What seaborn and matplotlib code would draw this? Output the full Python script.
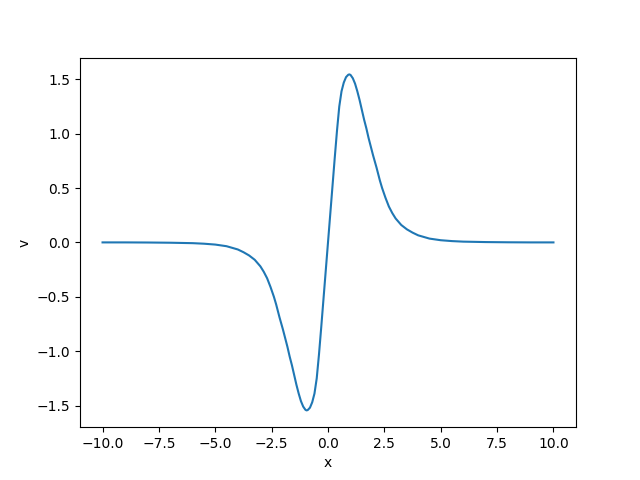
import matplotlib
matplotlib.use('Agg')
import matplotlib.pyplot as plt
import seaborn as sns
import pandas as pd

# values
x_vals = [-10.0, -9.0, -8.0, -7.0, -6.0, -5.5, -5.0, -4.5, -4.0, -3.75, -3.5, -3.25, -3.0,
          -2.85, -2.7, -2.55, -2.4, -2.3, -2.15, -2.0, -1.9, -1.8, -1.7, -1.6, -1.5, -1.4,
          -1.3, -1.2, -1.1, -1.0, -0.95, -0.9, -0.8, -0.7, -0.6, -0.5, -0.4, -0.3, -0.2, -0.1,
          0.0,
          0.1, 0.2, 0.3, 0.4, 0.5, 0.6, 0.7, 0.8, 0.9, 0.95, 1.0, 1.1, 1.2, 1.3, 1.4,
          1.5, 1.6, 1.7, 1.8, 1.9, 2.0, 2.15, 2.3, 2.4, 2.55, 2.7, 2.85, 3.0,
          3.25, 3.5, 3.75, 4.0, 4.5, 5.0, 5.5, 6.0, 7.0, 8.0, 9.0, 10.0]
v_vals = [0.0, 0.0, -0.001, -0.003, -0.007, -0.012, -0.02, -0.035, -0.065, -0.09, -0.12, -0.16, -0.22,
          -0.27, -0.33, -0.41, -0.50, -0.57, -0.69, -0.80, -0.88, -0.96, -1.05, -1.13, -1.22, -1.31,
          -1.39, -1.46, -1.51, -1.54, -1.545, -1.542, -1.52, -1.47, -1.39, -1.25, -1.03, -0.78, -0.52, -0.26,
          0.0,
          0.26, 0.52, 0.78, 1.03, 1.25, 1.39, 1.47, 1.52, 1.542, 1.545, 1.54, 1.51, 1.46, 1.39, 1.31,
          1.22, 1.13, 1.05, 0.96, 0.88, 0.80, 0.69, 0.57, 0.50, 0.41, 0.33, 0.27, 0.22,
          0.16, 0.12, 0.09, 0.065, 0.035, 0.02, 0.012, 0.007, 0.003, 0.001, 0.0, 0.0]

df = pd.DataFrame({'x': x_vals, 'v': v_vals})

fig, ax = plt.subplots(figsize=(6.4, 4.8), dpi=100)
sns.lineplot(data=df, x='x', y='v', color='#1f77b4', ax=ax)
ax.set_xlabel('x')
ax.set_ylabel('v')
fig.savefig('out.png', dpi=100)
